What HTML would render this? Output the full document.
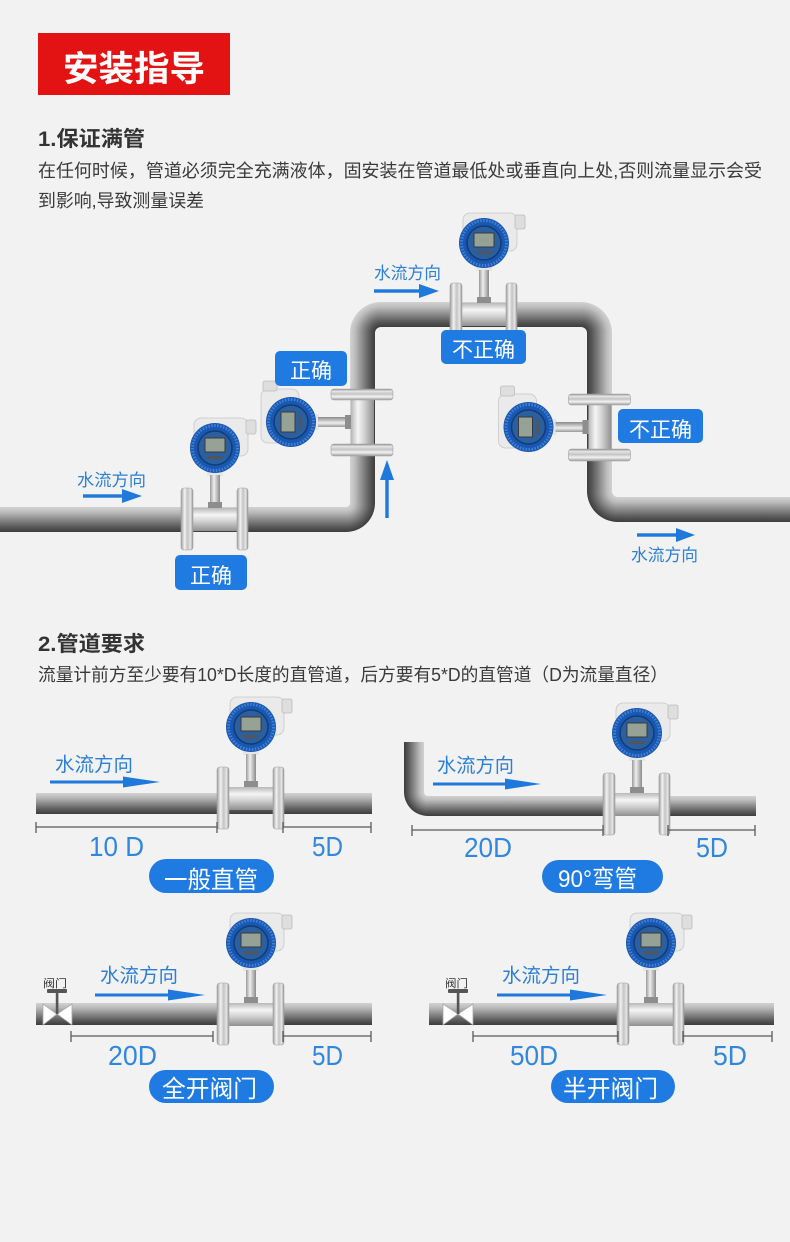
<!DOCTYPE html>
<html><head><meta charset="utf-8">
<style>
html,body{margin:0;padding:0;background:#f2f2f2;}
svg{display:block;}
text{font-family:"Liberation Sans","Noto Sans CJK SC",sans-serif;}
.cj{font-family:"Noto Sans CJK SC","Liberation Sans",sans-serif;}
</style></head>
<body>
<svg width="790" height="1242" viewBox="0 0 790 1242" xmlns="http://www.w3.org/2000/svg">
<defs>
  <linearGradient id="gh" x1="0" y1="0" x2="0" y2="1">
    <stop offset="0" stop-color="#d2d2d2"/><stop offset=".2" stop-color="#bdbdbd"/><stop offset=".5" stop-color="#8a8a8a"/><stop offset=".8" stop-color="#585858"/><stop offset="1" stop-color="#3d3d3d"/>
  </linearGradient>
  <linearGradient id="gvL" x1="0" y1="0" x2="1" y2="0">
    <stop offset="0" stop-color="#d2d2d2"/><stop offset=".2" stop-color="#bdbdbd"/><stop offset=".5" stop-color="#8a8a8a"/><stop offset=".8" stop-color="#585858"/><stop offset="1" stop-color="#3d3d3d"/>
  </linearGradient>
  <linearGradient id="gvR" x1="1" y1="0" x2="0" y2="0">
    <stop offset="0" stop-color="#d2d2d2"/><stop offset=".2" stop-color="#bdbdbd"/><stop offset=".5" stop-color="#8a8a8a"/><stop offset=".8" stop-color="#585858"/><stop offset="1" stop-color="#3d3d3d"/>
  </linearGradient>
  <radialGradient id="cTL" gradientUnits="userSpaceOnUse" cx="381" cy="333" r="31">
    <stop offset=".194" stop-color="#3d3d3d"/><stop offset=".355" stop-color="#585858"/><stop offset=".597" stop-color="#8a8a8a"/><stop offset=".839" stop-color="#bdbdbd"/><stop offset="1" stop-color="#d2d2d2"/>
  </radialGradient>
  <radialGradient id="cTR" gradientUnits="userSpaceOnUse" cx="581" cy="333" r="31">
    <stop offset=".194" stop-color="#3d3d3d"/><stop offset=".355" stop-color="#585858"/><stop offset=".597" stop-color="#8a8a8a"/><stop offset=".839" stop-color="#bdbdbd"/><stop offset="1" stop-color="#d2d2d2"/>
  </radialGradient>
  <radialGradient id="cBL" gradientUnits="userSpaceOnUse" cx="346" cy="503" r="29">
    <stop offset=".138" stop-color="#d2d2d2"/><stop offset=".31" stop-color="#bdbdbd"/><stop offset=".569" stop-color="#8a8a8a"/><stop offset=".828" stop-color="#585858"/><stop offset="1" stop-color="#3d3d3d"/>
  </radialGradient>
  <radialGradient id="cBR" gradientUnits="userSpaceOnUse" cx="618" cy="491" r="31">
    <stop offset=".194" stop-color="#d2d2d2"/><stop offset=".355" stop-color="#bdbdbd"/><stop offset=".597" stop-color="#8a8a8a"/><stop offset=".839" stop-color="#585858"/><stop offset="1" stop-color="#3d3d3d"/>
  </radialGradient>
  <radialGradient id="cP2" gradientUnits="userSpaceOnUse" cx="428" cy="792" r="24">
    <stop offset=".167" stop-color="#d2d2d2"/><stop offset=".333" stop-color="#bdbdbd"/><stop offset=".583" stop-color="#8a8a8a"/><stop offset=".833" stop-color="#585858"/><stop offset="1" stop-color="#3d3d3d"/>
  </radialGradient>
  <linearGradient id="fl" x1="0" y1="0" x2="1" y2="0">
    <stop offset="0" stop-color="#9c9c9c"/><stop offset=".3" stop-color="#f2f2f2"/><stop offset=".55" stop-color="#c4c4c4"/><stop offset=".8" stop-color="#e6e6e6"/><stop offset="1" stop-color="#8e8e8e"/>
  </linearGradient>
  <linearGradient id="bd" x1="0" y1="0" x2="0" y2="1">
    <stop offset="0" stop-color="#b8b8b8"/><stop offset=".3" stop-color="#f5f5f5"/><stop offset=".6" stop-color="#cfcfcf"/><stop offset="1" stop-color="#8f8f8f"/>
  </linearGradient>
  <linearGradient id="sv" x1="0" y1="0" x2="1" y2="0">
    <stop offset="0" stop-color="#9a9a9a"/><stop offset=".4" stop-color="#eeeeee"/><stop offset="1" stop-color="#8a8a8a"/>
  </linearGradient>
  <g id="m">
    <rect x="-20" y="-101" width="54" height="38" rx="7" fill="#eaeaea" stroke="#c8c8c8" stroke-width="0.8"/>
    <rect x="32" y="-99" width="10" height="14" rx="2" fill="#dedede" stroke="#bcbcbc" stroke-width="0.8"/>
    <rect x="-7" y="-50" width="16" height="7" fill="#e6e6e6"/>
    <rect x="-4" y="-44" width="10" height="30" fill="url(#sv)"/>
    <rect x="-6" y="-17" width="14" height="7" fill="#8d8d8d"/>
    <rect x="-22" y="-11" width="46" height="23" fill="url(#bd)"/>
    <rect x="-33" y="-31" width="12" height="62" rx="3" fill="url(#fl)" stroke="#a0a0a0" stroke-width=".6"/>
    <rect x="23" y="-31" width="11" height="62" rx="3" fill="url(#fl)" stroke="#a0a0a0" stroke-width=".6"/>
    <circle cx="1" cy="-71" r="25" fill="#1a57b0"/>
    <circle cx="1" cy="-71" r="22.5" fill="none" stroke="#3f82d8" stroke-width="3" stroke-dasharray="1.5 1.5"/>
    <circle cx="1" cy="-71" r="17" fill="#2c5f9e" stroke="#0f3c7a" stroke-width="1.5"/>
    <rect x="-9" y="-81" width="20" height="14" fill="#97a297" stroke="#3a3a3a" stroke-width="1"/>
    <rect x="-6" y="-63" width="14" height="3" fill="#555"/>
  </g>
</defs>

<rect x="0" y="0" width="790" height="1242" fill="#f2f2f2"/>

<!-- Header -->
<rect x="38" y="33" width="192" height="62" fill="#e41313"/>
<text x="63" y="81" font-size="35" font-weight="700" fill="#fff" textLength="142" lengthAdjust="spacingAndGlyphs">安装指导</text>

<text x="38" y="146" font-size="21" font-weight="700" fill="#333" textLength="107" lengthAdjust="spacingAndGlyphs">1.保证满管</text>
<text x="38" y="177" font-size="18" fill="#3a3a3a" textLength="724" lengthAdjust="spacingAndGlyphs">在任何时候，管道必须完全充满液体，固安装在管道最低处或垂直向上处,否则流量显示会受</text>
<text x="38" y="207" font-size="18" fill="#3a3a3a" textLength="166" lengthAdjust="spacingAndGlyphs">到影响,导致测量误差</text>

<!-- Diagram 1 pipes -->
<rect x="0" y="507" width="346.5" height="25" fill="url(#gh)"/>
<path d="M375,503 A29,29 0 0 1 346,532 L346,507 A4,4 0 0 0 350,503 Z" fill="url(#cBL)"/>
<rect x="350" y="332.5" width="25" height="171" fill="url(#gvL)"/>
<path d="M350,333 A31,31 0 0 1 381,302 L381,327 A6,6 0 0 0 375,333 Z" fill="url(#cTL)"/>
<rect x="380.5" y="302" width="201" height="25" fill="url(#gh)"/>
<path d="M581,302 A31,31 0 0 1 612,333 L587,333 A6,6 0 0 0 581,327 Z" fill="url(#cTR)"/>
<rect x="587" y="332.5" width="25" height="159" fill="url(#gvR)"/>
<path d="M587,491 A31,31 0 0 0 618,522 L618,497 A6,6 0 0 1 612,491 Z" fill="url(#cBR)"/>
<rect x="617.5" y="497" width="172.5" height="25" fill="url(#gh)"/>

<!-- Diagram 1 meters -->
<use href="#m" transform="translate(214,519)"/>
<use href="#m" transform="translate(362,423) rotate(-90)"/>
<use href="#m" transform="translate(483,314)"/>
<use href="#m" transform="translate(599.5,428) rotate(-90)"/>

<!-- Diagram 1 arrows & text -->
<g fill="#1f78dc" stroke="none">
  <rect x="83" y="494.3" width="41" height="3.4"/>
  <polygon points="122,489 142,496 122,503"/>
  <rect x="374" y="289.3" width="46" height="3.4"/>
  <polygon points="419,284 439,291 419,298"/>
  <rect x="385.3" y="478" width="3.4" height="40"/>
  <polygon points="380,480 387,460 394,480"/>
  <rect x="637" y="533.3" width="41" height="3.4"/>
  <polygon points="676,528 695,535 676,542"/>
</g>
<g fill="#2c7fd6" font-size="17">
  <text x="77" y="486" textLength="69" lengthAdjust="spacingAndGlyphs">水流方向</text>
  <text x="374" y="279" textLength="67" lengthAdjust="spacingAndGlyphs">水流方向</text>
  <text x="631" y="561" textLength="67" lengthAdjust="spacingAndGlyphs">水流方向</text>
</g>

<!-- Diagram 1 labels -->
<g fill="#1f7be2">
  <rect x="175" y="555" width="72" height="35" rx="5"/>
  <rect x="275" y="351" width="72" height="35" rx="5"/>
  <rect x="441" y="330" width="85" height="34" rx="5"/>
  <rect x="618" y="409" width="85" height="34" rx="5"/>
</g>
<g fill="#fff" font-size="21" text-anchor="middle">
  <text x="211" y="583">正确</text>
  <text x="311" y="378">正确</text>
  <text x="483.5" y="357">不正确</text>
  <text x="660.5" y="437">不正确</text>
</g>

<!-- Section 2 header -->
<text x="38" y="651" font-size="21" font-weight="700" fill="#333" textLength="107" lengthAdjust="spacingAndGlyphs">2.管道要求</text>
<text x="38" y="681" font-size="18" fill="#3a3a3a" textLength="630" lengthAdjust="spacingAndGlyphs">流量计前方至少要有10*D长度的直管道，后方要有5*D的直管道（D为流量直径）</text>

<!-- Panel pipes -->
<rect x="36" y="793" width="336" height="21" fill="url(#gh)"/>
<rect x="404" y="742" width="20" height="50.5" fill="url(#gvR)"/>
<path d="M404,792 A24,24 0 0 0 428,816 L428,796 A4,4 0 0 1 424,792 Z" fill="url(#cP2)"/>
<rect x="427.5" y="796" width="328.5" height="20" fill="url(#gh)"/>
<rect x="36" y="1003" width="336" height="22" fill="url(#gh)"/>
<rect x="429" y="1003" width="345" height="22" fill="url(#gh)"/>

<!-- Valves -->
<g stroke="#a8a8a8" stroke-width="0.8" fill="#ffffff">
  <polygon points="43,1004 57,1014 43,1025"/>
  <polygon points="72,1004 57,1014 72,1025"/>
  <polygon points="443,1004 458,1014 443,1025"/>
  <polygon points="473,1004 458,1014 473,1025"/>
</g>
<g fill="#555">
  <rect x="47" y="989" width="20" height="4" rx="1"/>
  <rect x="55.8" y="993" width="2.6" height="21"/>
  <rect x="448" y="989" width="20" height="4" rx="1"/>
  <rect x="456.8" y="993" width="2.6" height="21"/>
</g>
<g fill="#333" font-size="11">
  <text x="43" y="987" textLength="24" lengthAdjust="spacingAndGlyphs">阀门</text>
  <text x="445" y="987" textLength="23" lengthAdjust="spacingAndGlyphs">阀门</text>
</g>

<!-- Panel meters -->
<use href="#m" transform="translate(250,798)"/>
<use href="#m" transform="translate(636,804)"/>
<use href="#m" transform="translate(250,1014)"/>
<use href="#m" transform="translate(650,1014)"/>

<!-- Dimension lines -->
<g stroke="#5a5a5a" stroke-width="1.3" fill="none">
  <path d="M36,827H217M36,822V833M217,822V833M283,827H371M283,822V833M371,822V833"/>
  <path d="M412,830H603M412,825V836M603,825V836M668,830H755M668,825V836M755,825V836"/>
  <path d="M71,1036H213M71,1031V1042M213,1031V1042M283,1036H371M283,1031V1042M371,1031V1042"/>
  <path d="M473,1036H618M473,1031V1042M618,1031V1042M683,1036H772M683,1031V1042M772,1031V1042"/>
</g>

<!-- Panel arrows -->
<g fill="#1f78dc">
  <rect x="50" y="780.5" width="75" height="3"/>
  <polygon points="123,776.5 160,782 123,787.5"/>
  <rect x="433" y="782.5" width="74" height="3"/>
  <polygon points="505,778.5 541,784 505,789.5"/>
  <rect x="95" y="993.5" width="75" height="3"/>
  <polygon points="168,989.5 205,995 168,1000.5"/>
  <rect x="497" y="993.5" width="75" height="3"/>
  <polygon points="570,989.5 607,995 570,1000.5"/>
</g>
<g fill="#2c7fd6" font-size="19.5">
  <text x="55" y="771" textLength="78" lengthAdjust="spacingAndGlyphs">水流方向</text>
  <text x="437" y="772" textLength="77" lengthAdjust="spacingAndGlyphs">水流方向</text>
  <text x="100" y="982" textLength="78" lengthAdjust="spacingAndGlyphs">水流方向</text>
  <text x="502" y="982" textLength="78" lengthAdjust="spacingAndGlyphs">水流方向</text>
</g>

<!-- Dim labels -->
<g fill="#3187df" font-size="28">
  <text x="89" y="856" textLength="55" lengthAdjust="spacingAndGlyphs">10 D</text>
  <text x="312" y="856" textLength="31" lengthAdjust="spacingAndGlyphs">5D</text>
  <text x="464" y="857" textLength="48" lengthAdjust="spacingAndGlyphs">20D</text>
  <text x="696" y="857" textLength="32" lengthAdjust="spacingAndGlyphs">5D</text>
  <text x="108" y="1065" textLength="49" lengthAdjust="spacingAndGlyphs">20D</text>
  <text x="312" y="1065" textLength="31" lengthAdjust="spacingAndGlyphs">5D</text>
  <text x="510" y="1065" textLength="48" lengthAdjust="spacingAndGlyphs">50D</text>
  <text x="713" y="1065" textLength="34" lengthAdjust="spacingAndGlyphs">5D</text>
</g>

<!-- Pills -->
<g fill="#1f7be2">
  <rect x="149" y="859" width="125" height="34" rx="17"/>
  <rect x="542" y="860" width="121" height="33" rx="16.5"/>
  <rect x="149" y="1070" width="125" height="33" rx="16.5"/>
  <rect x="551" y="1070" width="124" height="33" rx="16.5"/>
</g>
<g fill="#fff" font-size="24">
  <text x="164" y="888" textLength="94" lengthAdjust="spacingAndGlyphs">一般直管</text>
  <text x="558" y="887" textLength="79" lengthAdjust="spacingAndGlyphs">90°弯管</text>
  <text x="162" y="1097" textLength="95" lengthAdjust="spacingAndGlyphs">全开阀门</text>
  <text x="563" y="1097" textLength="95" lengthAdjust="spacingAndGlyphs">半开阀门</text>
</g>
</svg>
</body></html>
